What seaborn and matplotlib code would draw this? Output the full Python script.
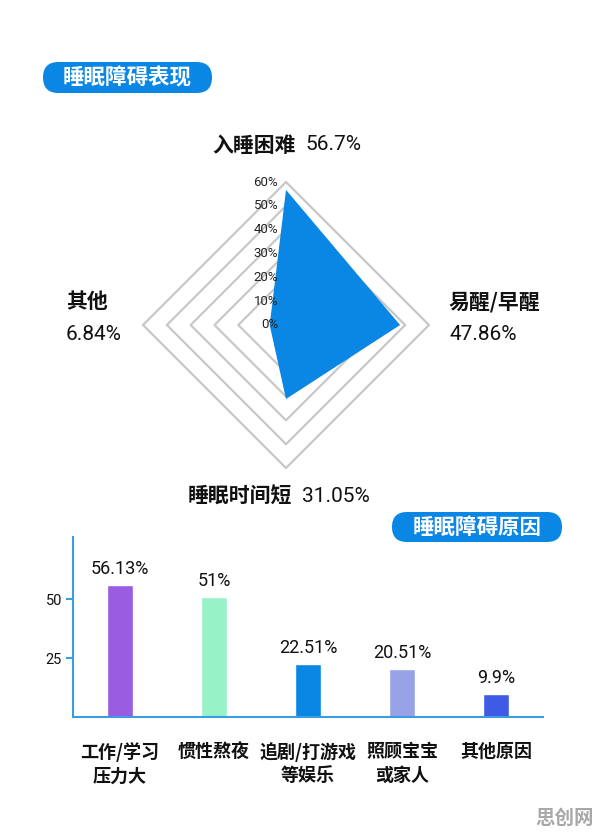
import numpy as np
import pandas as pd
import seaborn as sns
import matplotlib.pyplot as plt
from matplotlib.patches import FancyBboxPatch

# radar data (top, right, bottom, left)
radar_labels = ['入睡困难', '易醒/早醒', '睡眠时间短', '其他']
radar_values = [56.7, 47.86, 31.05, 6.84]
radar_value_labels = ['56.7%', '47.86%', '31.05%', '6.84%']
radar_angles = [90, 0, 270, 180]
ring_levels = [20, 30, 40, 50, 60]
tick_levels = [0, 10, 20, 30, 40, 50, 60]

# bar data
causes = ['工作/学习\n压力大', '惯性熬夜', '追剧/打游戏\n等娱乐', '照顾宝宝\n或家人', '其他原因']
cause_values = [56.13, 51, 22.51, 20.51, 9.9]
cause_labels = ['56.13%', '51%', '22.51%', '20.51%', '9.9%']
bar_colors = ['#9a5ce0', '#98f2c8', '#0a86e4', '#97a3e6', '#3f5be6']
y_ticks = [25, 50]

BLUE = '#0a86e4'
AXIS_BLUE = '#3d9be0'
W, H = 596, 836

sns.set_theme(style='white')
CJK = ['Noto Sans CJK SC', 'DejaVu Sans']
NUM = ['Roboto', 'Noto Sans CJK SC', 'DejaVu Sans']
plt.rcParams['font.family'] = CJK

fig = plt.figure(figsize=(W / 100, H / 100), dpi=100)


def pill(x, y, w, h, text):
    # x, y: top-left corner in pixels
    box = FancyBboxPatch((x / 100, (H - y - h) / 100), w / 100, h / 100,
                         boxstyle=f'round,pad=0,rounding_size={h / 200}',
                         transform=fig.dpi_scale_trans, fc=BLUE, ec='none')
    fig.add_artist(box)
    fig.text((x + w / 2) / W, (H - y - h / 2) / H, text, color='white',
             fontsize=15.5, fontweight='bold', ha='center', va='center')


pill(43, 62, 169, 31, '睡眠障碍表现')
pill(392, 512, 170, 30, '睡眠障碍原因')

# ---- radar ----
cx, cy, r60 = 286, 325, 143
half = 75 * r60 / 60
ax = fig.add_axes([(cx - half) / W, (H - cy - half) / H, 2 * half / W, 2 * half / H])
ax.set_xlim(-75, 75)
ax.set_ylim(-75, 75)
ax.axis('off')

theta = np.deg2rad(radar_angles)
for lv in ring_levels:
    xs = lv * np.cos(theta)
    ys = lv * np.sin(theta)
    ax.plot(np.append(xs, xs[0]), np.append(ys, ys[0]), color='#c8c8c8', lw=1.6, zorder=1)

vals = np.array(radar_values)
ax.fill(vals * np.cos(theta), vals * np.sin(theta), color=BLUE, lw=0, zorder=2)

for t in tick_levels:
    ax.text(-3.2, t, f'{t}%', ha='right', va='center', fontsize=9.5,
            family=NUM, color='#222222', zorder=3)

k = 60 / r60  # data units per pixel
# top
ax.text((296 - cx) * k, (cy - 145) * k, radar_labels[0], ha='right', va='center',
        fontsize=15, fontweight='bold', color='#111111')
ax.text((305 - cx) * k, (cy - 145) * k, radar_value_labels[0], ha='left', va='center',
        fontsize=15, family=NUM, color='#111111')
# right
ax.text((449 - cx) * k, (cy - 302) * k, radar_labels[1], ha='left', va='center',
        fontsize=15, fontweight='bold', color='#111111')
ax.text((449 - cx) * k, (cy - 334) * k, radar_value_labels[1], ha='left', va='center',
        fontsize=15, family=NUM, color='#111111')
# bottom
ax.text((292 - cx) * k, (cy - 496) * k, radar_labels[2], ha='right', va='center',
        fontsize=15, fontweight='bold', color='#111111')
ax.text((302 - cx) * k, (cy - 496) * k, radar_value_labels[2], ha='left', va='center',
        fontsize=15, family=NUM, color='#111111')
# left
ax.text((66 - cx) * k, (cy - 302) * k, radar_labels[3], ha='left', va='center',
        fontsize=15, fontweight='bold', color='#111111')
ax.text((66 - cx) * k, (cy - 335) * k, radar_value_labels[3], ha='left', va='center',
        fontsize=15, family=NUM, color='#111111')

# ---- bars ----
bx = fig.add_axes([73 / W, (H - 717) / H, 470 / W, 180 / H])
df = pd.DataFrame({'cause': causes, 'value': cause_values})
sns.barplot(data=df, x='cause', y='value', hue='cause', palette=bar_colors,
            legend=False, width=0.27, saturation=1, ax=bx)
for cont, lab in zip(bx.containers, cause_labels):
    bx.bar_label(cont, labels=[lab], padding=5, fontsize=13, family=NUM, color='#111111')

bx.set_ylim(0, 76.3)
bx.set_xlim(-0.5, 4.5)
bx.set_yticks(y_ticks)
bx.set_xlabel('')
bx.set_ylabel('')
for s in ['top', 'right']:
    bx.spines[s].set_visible(False)
for s in ['left', 'bottom']:
    bx.spines[s].set_color(AXIS_BLUE)
    bx.spines[s].set_linewidth(1.5)
bx.tick_params(axis='y', left=True, length=5, width=1.5, color=AXIS_BLUE,
               labelsize=10.5, pad=3, labelcolor='#111111')
bx.tick_params(axis='x', bottom=False, labelsize=13, pad=12, labelcolor='#111111')
plt.setp(bx.get_yticklabels(), family=NUM)
plt.setp(bx.get_xticklabels(), fontweight='bold', linespacing=1.3)

fig.text(565 / W, (H - 818) / H, '思创网', color='#a8a8a8', fontsize=14,
         fontweight='bold', ha='center', va='center')

fig.savefig('out.png', dpi=100)
